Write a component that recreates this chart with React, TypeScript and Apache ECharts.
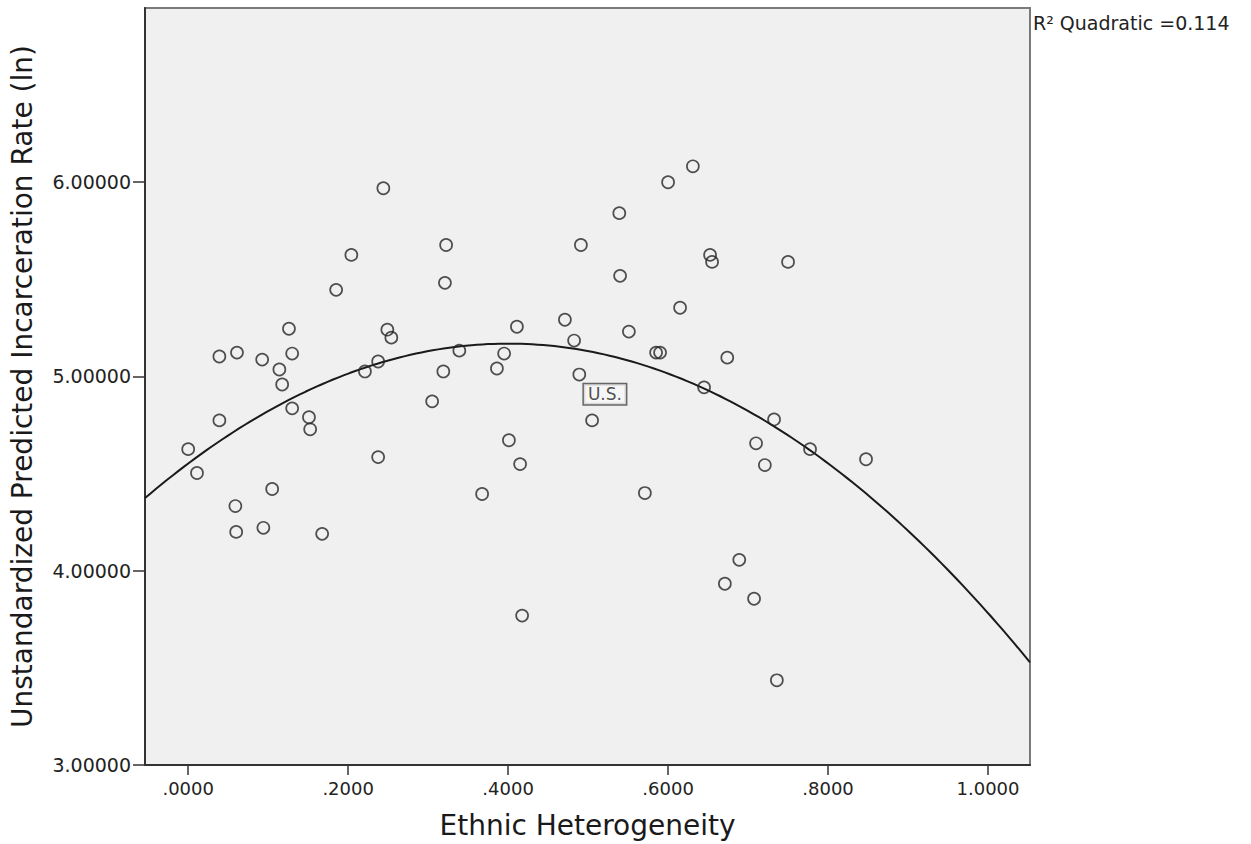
import React, { useEffect, useRef } from "react";
import * as echarts from "echarts";

// Ethnic heterogeneity (x) for each country
const ethnicHeterogeneity = [
  0.0, 0.011, 0.039, 0.039, 0.061, 0.059, 0.06, 0.0925, 0.094, 0.105,
  0.114, 0.1175, 0.126, 0.13, 0.13, 0.151, 0.1525, 0.1675, 0.185, 0.204,
  0.221, 0.2375, 0.2375, 0.244, 0.249, 0.254, 0.305, 0.319, 0.321, 0.3225,
  0.339, 0.3675, 0.386, 0.395, 0.401, 0.411, 0.415, 0.4175, 0.471, 0.4825,
  0.489, 0.491, 0.505, 0.539, 0.54, 0.551, 0.571, 0.585, 0.59, 0.6,
  0.615, 0.631, 0.645, 0.6525, 0.655, 0.671, 0.674, 0.689, 0.7075, 0.71,
  0.721, 0.7325, 0.736, 0.75, 0.7775, 0.8475,
];

// Unstandardized predicted incarceration rate (ln) (y)
const predictedRate = [
  4.626, 4.503, 5.103, 4.774, 5.123, 4.333, 4.2, 5.087, 4.221, 4.421,
  5.036, 4.959, 5.246, 5.118, 4.836, 4.79, 4.728, 4.19, 5.446, 5.626,
  5.026, 5.077, 4.585, 5.969, 5.241, 5.2, 4.872, 5.026, 5.482, 5.677,
  5.133, 4.395, 5.041, 5.118, 4.672, 5.256, 4.549, 3.769, 5.292, 5.185,
  5.01, 5.677, 4.774, 5.841, 5.518, 5.231, 4.4, 5.123, 5.123, 6.0,
  5.354, 6.082, 4.944, 5.626, 5.59, 3.933, 5.097, 4.056, 3.856, 4.656,
  4.544, 4.779, 3.436, 5.59, 4.626, 4.574,
];

// Labeled case
const usLabel = "U.S.";
const usPoint = [0.521, 4.908];

// Fitted quadratic (a + b·x + c·x²), R² = 0.114
const quadCoef = [4.552, 3.085, -3.855];
const r2Label = "R\u00B2 Quadratic =0.114";

const xTicks = [0, 0.2, 0.4, 0.6, 0.8, 1.0];
const yTicks = [3, 4, 5, 6];
const xRange = [-0.054, 1.0525];
const yRange = [3, 6.897];

const xTitle = "Ethnic Heterogeneity";
const yTitle = "Unstandardized Predicted Incarceration Rate (ln)";

const FONT = "'DejaVu Sans', sans-serif";

export default function App() {
  const ref = useRef<HTMLDivElement>(null);

  useEffect(() => {
    if (!ref.current) return;
    const chart = echarts.init(ref.current, undefined, { renderer: "svg" });

    const points = ethnicHeterogeneity.map((x, i) => [x, predictedRate[i]]);
    const steps = 160;
    const curve: number[][] = [];
    for (let i = 0; i <= steps; i++) {
      const x = xRange[0] + ((xRange[1] - xRange[0]) * i) / steps;
      curve.push([x, quadCoef[0] + quadCoef[1] * x + quadCoef[2] * x * x]);
    }

    chart.setOption({
      animation: false,
      backgroundColor: "#ffffff",
      textStyle: { fontFamily: FONT },
      grid: {
        left: 145,
        top: 8,
        width: 885,
        height: 760,
        show: true,
        backgroundColor: "#f0f0f0",
        borderColor: "#7a7a7a",
        borderWidth: 2,
      },
      xAxis: {
        type: "value",
        min: xRange[0],
        max: xRange[1],
        name: xTitle,
        nameLocation: "middle",
        nameGap: 46,
        nameTextStyle: { fontSize: 28, color: "#1a1a1a", fontFamily: FONT },
        axisLine: { show: true, onZero: false, lineStyle: { color: "#333", width: 2 } },
        axisTick: {
          show: true,
          length: 10,
          customValues: xTicks,
          lineStyle: { color: "#333", width: 1.5 },
        },
        axisLabel: {
          customValues: xTicks,
          margin: 14,
          fontSize: 18,
          color: "#222",
          fontFamily: FONT,
          formatter: (v: number) => {
            const s = v.toFixed(4);
            return s.startsWith("0") ? s.slice(1) : s;
          },
        },
        splitLine: { show: false },
      },
      yAxis: {
        type: "value",
        min: yRange[0],
        max: yRange[1],
        name: yTitle,
        nameLocation: "middle",
        nameGap: 109,
        nameTextStyle: { fontSize: 28, color: "#1a1a1a", fontFamily: FONT },
        axisLine: { show: true, onZero: false, lineStyle: { color: "#333", width: 2 } },
        axisTick: {
          show: true,
          length: 12,
          customValues: yTicks,
          lineStyle: { color: "#333", width: 1.5 },
        },
        axisLabel: {
          customValues: yTicks,
          margin: 14,
          fontSize: 19,
          color: "#222",
          fontFamily: FONT,
          formatter: (v: number) => v.toFixed(5),
        },
        splitLine: { show: false },
      },
      graphic: [
        {
          type: "text",
          left: 1033,
          top: 13,
          style: { text: r2Label, fontSize: 19, fontFamily: FONT, fill: "#222" },
        },
      ],
      series: [
        {
          type: "line",
          data: curve,
          showSymbol: false,
          symbol: "none",
          smooth: false,
          lineStyle: { color: "#1a1a1a", width: 2 },
          z: 2,
        },
        {
          type: "scatter",
          data: points,
          symbol: "circle",
          symbolSize: 12,
          itemStyle: { color: "rgba(0,0,0,0)", borderColor: "#262626", borderWidth: 1.7 },
          z: 3,
        },
        {
          type: "scatter",
          data: [usPoint],
          symbolSize: 1,
          itemStyle: { color: "rgba(0,0,0,0)" },
          label: {
            show: true,
            position: "inside",
            formatter: usLabel,
            fontSize: 17,
            fontFamily: FONT,
            color: "#222",
            backgroundColor: "#f8f8f8",
            borderColor: "#444",
            borderWidth: 1.5,
            padding: [2, 4, 1, 4],
          },
          z: 4,
        },
      ],
    });

    return () => chart.dispose();
  }, []);

  return (
    <div
      ref={ref}
      style={{ position: "fixed", left: 0, top: 0, width: 1251, height: 844 }}
    />
  );
}
